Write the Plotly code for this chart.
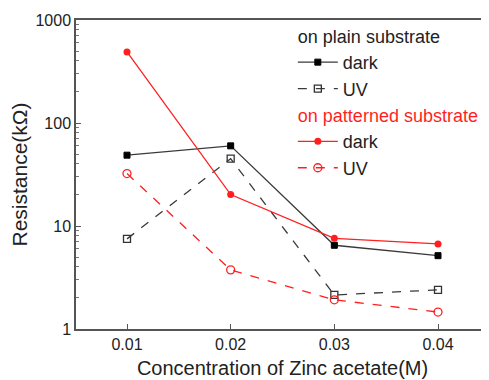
import plotly.graph_objects as go

conc = [0.01, 0.02, 0.03, 0.04]
plain_dark = [48.7, 60, 6.5, 5.15]
plain_uv = [7.5, 45, 2.14, 2.4]
pat_dark = [490, 20.2, 7.6, 6.7]
pat_uv = [32.3, 3.75, 1.92, 1.46]

x_ticks = [0.01, 0.02, 0.03, 0.04]
x_ticklabels = ["0.01", "0.02", "0.03", "0.04"]
y_ticks = [1, 10, 100, 1000]
y_ticklabels = ["1", "10", "100", "1000"]

GRAY = "#3a3a3a"
RED = "#ff1f1f"

fig = go.Figure()
fig.add_trace(go.Scatter(
    x=conc, y=plain_dark, mode="lines+markers", name="dark",
    line=dict(color=GRAY, width=1.3),
    marker=dict(symbol="square", size=6, color="black", line=dict(color="black", width=1)),
    legendgroup="plain", legendgrouptitle=dict(text="on plain substrate", font=dict(color="#222", size=18)),
))
fig.add_trace(go.Scatter(
    x=conc, y=plain_uv, mode="lines+markers", name="UV",
    line=dict(color=GRAY, width=1.3, dash="dash"),
    marker=dict(symbol="square-open", size=7, color="#333", line=dict(width=1.3)),
    legendgroup="plain",
))
fig.add_trace(go.Scatter(
    x=conc, y=pat_dark, mode="lines+markers", name="dark",
    line=dict(color=RED, width=1.3),
    marker=dict(symbol="circle", size=7, color=RED),
    legendgroup="pat", legendgrouptitle=dict(text="on patterned substrate", font=dict(color=RED, size=18)),
))
fig.add_trace(go.Scatter(
    x=conc, y=pat_uv, mode="lines+markers", name="UV",
    line=dict(color=RED, width=1.3, dash="dash"),
    marker=dict(symbol="circle-open", size=8, color=RED, line=dict(width=1.3)),
    legendgroup="pat",
))

fig.update_layout(
    width=481, height=372,
    margin=dict(l=68, r=0, t=12, b=51),
    paper_bgcolor="white", plot_bgcolor="white",
    font=dict(family="Arial, Liberation Sans, sans-serif", color="#222"),
    legend=dict(
        x=0.525, y=1.008, xanchor="left", yanchor="top",
        font=dict(size=18), tracegroupgap=0, bgcolor="rgba(0,0,0,0)",
        traceorder="grouped", itemwidth=40,
    ),
    xaxis=dict(
        range=[0.00508, 0.04492], tickvals=x_ticks, ticktext=x_ticklabels,
        ticks="inside", ticklen=5, tickcolor="#555",
        showline=True, linecolor="#555", linewidth=1.5, mirror=True,
        showgrid=False, zeroline=False,
        tickfont=dict(size=16),
        title=dict(text="Concentration of Zinc acetate(M)", font=dict(size=20), standoff=9),
    ),
    yaxis=dict(
        type="log", range=[0, 3], tickvals=y_ticks, ticktext=y_ticklabels,
        ticks="inside", ticklen=5, tickcolor="#555",
        minor=dict(ticks="inside", ticklen=3, tickcolor="#777", dtick="D1", showgrid=False),
        showline=True, linecolor="#555", linewidth=1.5,
        showgrid=False, zeroline=False,
        tickfont=dict(size=16),
        title=dict(text="Resistance(kΩ)", font=dict(size=21), standoff=6),
    ),
)

fig.write_html("out.html")
